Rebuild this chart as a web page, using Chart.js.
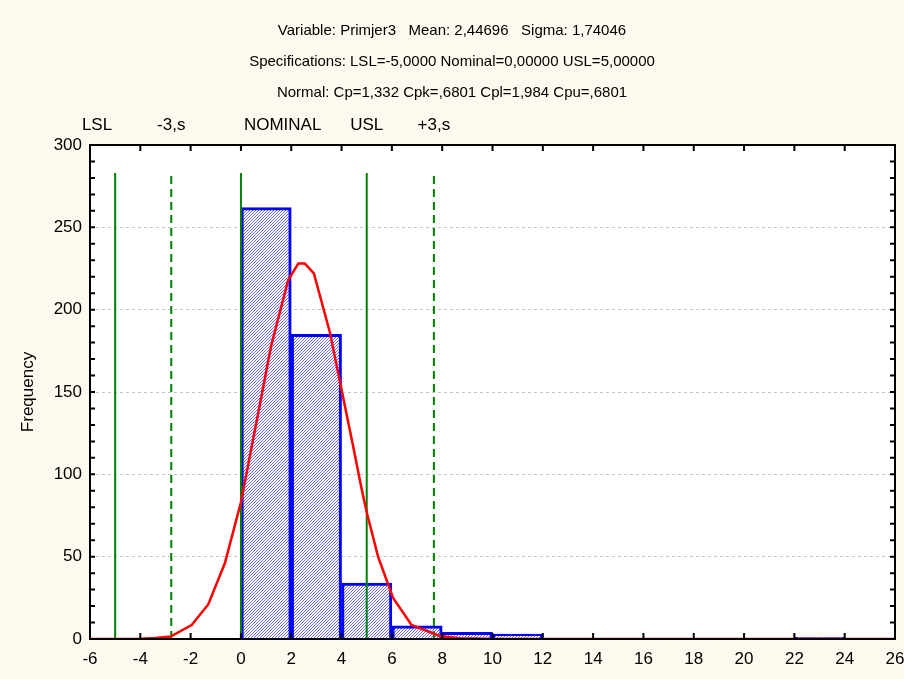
<!DOCTYPE html>
<html>
<head>
<meta charset="utf-8">
<script src="https://cdn.jsdelivr.net/npm/chart.js@4/dist/chart.umd.min.js"></script>
<style>
  body { margin: 0; background: #fdf9ef; }
  #wrap { width: 904px; height: 679px; }
</style>
</head>
<body>
<div id="wrap"><canvas id="chart" width="904" height="679"></canvas></div>
<script>
// histogram bins (centre of each 2-wide class) and counts
var binCenters = [1, 3, 5, 7, 9, 11, 23];
var binCounts = [262, 185, 34, 8, 4, 3, 1];

// fitted normal curve
var curveX = [-6, -5, -4, -3.4, -2.8, -1.96, -1.3, -0.64, 0, 0.62, 1.2, 1.88, 2.28, 2.54, 2.9, 3.54, 4.06, 4.46, 4.8, 5.0, 5.45, 6.05, 6.78, 7.9, 8.7, 10, 26];
var curveY = [0, 0, 0.2, 0.6, 1.5, 8.5, 21, 46, 83, 132, 178, 218, 228, 228, 222, 186, 147, 117, 91, 77, 50, 25, 8.5, 1.8, 0.4, 0, 0];

// specification lines
var specValues = [-5, -2.77, 0, 5, 7.67];
var specLabels = ["LSL", "-3,s", "NOMINAL", "USL", "+3,s"];
var specDashed = [false, true, false, false, true];
var specTop = 283;

var titleLines = [
  "Variable: Primjer3   Mean: 2,44696   Sigma: 1,74046",
  "Specifications: LSL=-5,0000 Nominal=0,00000 USL=5,00000",
  "Normal: Cp=1,332 Cpk=,6801 Cpl=1,984 Cpu=,6801"
];

var xMin = -6, xMax = 26, xStep = 2;
var yMin = 0, yMax = 300, yStep = 50, yMinorStep = 10;

Chart.defaults.color = "#000";
Chart.defaults.font.family = "'Liberation Sans', Arial, sans-serif";

function makeHatch() {
  var c = document.createElement("canvas");
  c.width = 3;
  c.height = 3;
  var g = c.getContext("2d");
  g.fillStyle = "#ffffff";
  g.fillRect(0, 0, 3, 3);
  g.fillStyle = "#6a6aff";
  for (var x = 0; x < 3; x++) {
    for (var y = 0; y < 3; y++) {
      if ((x + y) % 3 == 0) g.fillRect(x, y, 1, 1);
    }
  }
  return g.createPattern(c, "repeat");
}

var datasets = [];

datasets.push({
  type: "line",
  data: curveX.map(function (x, i) { return { x: x, y: curveY[i] }; }),
  borderColor: "#ff0000",
  borderWidth: 2.5,
  pointRadius: 0,
  tension: 0,
  order: 1
});

for (var i = 0; i < specValues.length; i++) {
  datasets.push({
    type: "line",
    data: [{ x: specValues[i], y: 0 }, { x: specValues[i], y: specTop }],
    borderColor: "#008000",
    borderWidth: 2,
    borderDash: specDashed[i] ? [8, 5] : [],
    pointRadius: 0,
    order: 2
  });
}

datasets.push({
  type: "bar",
  data: binCenters.map(function (x, i) { return { x: x, y: binCounts[i] }; }),
  backgroundColor: makeHatch(),
  borderColor: "#0000ff",
  borderWidth: 3,
  barPercentage: 1,
  categoryPercentage: 1,
  order: 3
});

var framePlugin = {
  id: "frame",
  beforeDraw: function (chart) {
    var ctx = chart.ctx, a = chart.chartArea;
    ctx.save();
    ctx.fillStyle = "#fdf9ef";
    ctx.fillRect(0, 0, chart.width, chart.height);
    ctx.fillStyle = "#ffffff";
    ctx.fillRect(a.left, a.top, a.right - a.left, a.bottom - a.top);
    ctx.restore();
  },
  afterDraw: function (chart) {
    var ctx = chart.ctx, a = chart.chartArea;
    var xs = chart.scales.x, ys = chart.scales.y;
    ctx.save();
    ctx.strokeStyle = "#000";
    ctx.lineWidth = 2;
    ctx.beginPath();
    for (var v = xMin; v <= xMax; v += xStep) {
      var px = xs.getPixelForValue(v);
      ctx.moveTo(px, a.bottom); ctx.lineTo(px, a.bottom - 6);
      ctx.moveTo(px, a.top); ctx.lineTo(px, a.top + 6);
    }
    for (var w = yMin; w <= yMax; w += yMinorStep) {
      var py = ys.getPixelForValue(w);
      ctx.moveTo(a.left, py); ctx.lineTo(a.left + 5, py);
      ctx.moveTo(a.right, py); ctx.lineTo(a.right - 5, py);
    }
    ctx.stroke();
    ctx.strokeRect(a.left, a.top, a.right - a.left, a.bottom - a.top);

    // spec labels above the plot
    ctx.fillStyle = "#000";
    ctx.font = "17px 'Liberation Sans', Arial, sans-serif";
    ctx.textBaseline = "middle";
    for (var i = 0; i < specValues.length; i++) {
      var sx = xs.getPixelForValue(specValues[i]);
      if (i == 0) { ctx.textAlign = "right"; sx -= 3; }
      else if (specLabels[i] == "NOMINAL") { ctx.textAlign = "left"; sx += 3; }
      else ctx.textAlign = "center";
      ctx.fillText(specLabels[i], sx, a.top - 20);
    }
    ctx.restore();
  }
};

new Chart(document.getElementById("chart"), {
  data: { datasets: datasets },
  options: {
    responsive: false,
    animation: false,
    layout: { padding: { left: 0, right: 0, top: 0, bottom: 0 } },
    plugins: {
      legend: { display: false },
      tooltip: { enabled: false },
      title: {
        display: true,
        text: titleLines,
        font: { size: 15, weight: "normal", lineHeight: "31px" },
        padding: { top: 15, bottom: 37 }
      }
    },
    scales: {
      x: {
        type: "linear",
        offset: false,
        min: xMin,
        max: xMax,
        ticks: { stepSize: xStep, padding: 10, font: { size: 17 }, maxRotation: 0 },
        grid: { display: false, drawTicks: false, offset: false },
        border: { display: false },
        afterFit: function (s) { s.height = 40; s.paddingRight = 9; s.paddingLeft = 0; }
      },
      y: {
        min: yMin,
        max: yMax,
        ticks: { stepSize: yStep, padding: 8, font: { size: 17 } },
        grid: {
          drawTicks: false,
          color: function (c) {
            return c.tick && c.tick.value > yMin && c.tick.value < yMax ? "#c4c4c4" : "rgba(0,0,0,0)";
          },
          lineWidth: 1
        },
        border: { display: false, dash: [3, 3] },
        title: { display: true, text: "Frequency", font: { size: 17 }, padding: { top: 18 } },
        afterFit: function (s) { s.width = 90; }
      }
    }
  },
  plugins: [framePlugin]
});
</script>
</body>
</html>
